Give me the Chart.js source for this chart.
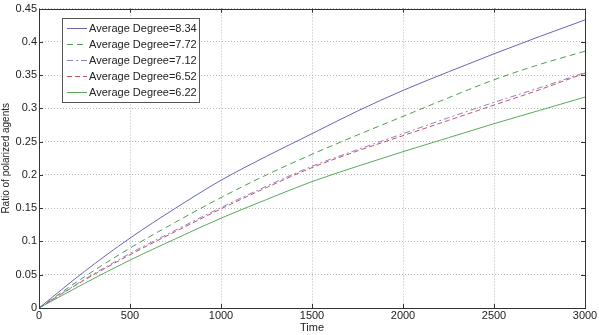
<!DOCTYPE html>
<html>
<head>
<meta charset="utf-8">
<script src="https://cdn.jsdelivr.net/npm/chart.js@4.4.1/dist/chart.umd.min.js"></script>
<style>
  html, body { margin: 0; padding: 0; background: #fff; }
  #wrap { width: 599px; height: 335px; }
</style>
</head>
<body>
<div id="wrap"><canvas id="polarChart" width="599" height="335"></canvas></div>
<script>
// time axis samples
const times = [0, 250, 500, 750, 1000, 1250, 1500, 1750, 2000, 2250, 2500, 2750, 3000];

// ratio of polarized agents, one array per average degree
const deg834 = [0, 0.055, 0.105, 0.150, 0.192, 0.228, 0.262, 0.296, 0.327, 0.355, 0.382, 0.408, 0.433];
const deg772 = [0, 0.047, 0.090, 0.129, 0.166, 0.200, 0.231, 0.260, 0.288, 0.316, 0.343, 0.366, 0.386];
const deg712 = [0, 0.043, 0.082, 0.117, 0.151, 0.183, 0.213, 0.238, 0.262, 0.286, 0.309, 0.331, 0.354];
const deg652 = [0, 0.042, 0.080, 0.115, 0.149, 0.181, 0.211, 0.236, 0.259, 0.282, 0.305, 0.328, 0.353];
const deg622 = [0, 0.037, 0.072, 0.104, 0.135, 0.163, 0.190, 0.213, 0.235, 0.256, 0.277, 0.297, 0.317];

const seriesLabels = [
    'Average Degree=8.34',
    'Average Degree=7.72',
    'Average Degree=7.12',
    'Average Degree=6.52',
    'Average Degree=6.22'
];

const xTicks = [0, 500, 1000, 1500, 2000, 2500, 3000];
const yTicks = [0, 0.05, 0.1, 0.15, 0.2, 0.25, 0.3, 0.35, 0.4, 0.45];

const FONT = 'Liberation Sans, Arial, sans-serif';

function toPoints(values) {
    return values.map((v, i) => ({ x: times[i], y: v }));
}

function makeSet(label, values, color, dash) {
    return {
        label: label,
        data: toPoints(values),
        borderColor: color,
        backgroundColor: color,
        borderWidth: 1,
        borderDash: dash,
        pointRadius: 0,
        cubicInterpolationMode: 'monotone',
        fill: false
    };
}

// matlab style box, inward ticks and a legend inside the axes
const boxPlugin = {
    id: 'matlabBox',
    afterDraw(chart) {
        const ctx = chart.ctx;
        const a = chart.chartArea;
        const xs = chart.scales.x;
        const ys = chart.scales.y;
        ctx.save();
        ctx.strokeStyle = '#333';
        ctx.lineWidth = 1;
        ctx.setLineDash([]);
        ctx.strokeRect(Math.round(a.left) + 0.5, Math.round(a.top) + 0.5,
            Math.round(a.right - a.left), Math.round(a.bottom - a.top));
        ctx.beginPath();
        xTicks.forEach(t => {
            const px = Math.round(xs.getPixelForValue(t)) + 0.5;
            ctx.moveTo(px, a.bottom); ctx.lineTo(px, a.bottom - 4);
            ctx.moveTo(px, a.top); ctx.lineTo(px, a.top + 4);
        });
        yTicks.forEach(t => {
            const py = Math.round(ys.getPixelForValue(t)) + 0.5;
            ctx.moveTo(a.left, py); ctx.lineTo(a.left + 4, py);
            ctx.moveTo(a.right, py); ctx.lineTo(a.right - 4, py);
        });
        ctx.stroke();

        // legend
        const lx = 62, ly = 18, lw = 137, rowH = 16;
        const lh = rowH * chart.data.datasets.length + 4;
        ctx.fillStyle = '#fff';
        ctx.fillRect(lx, ly, lw, lh);
        ctx.strokeStyle = '#555';
        ctx.strokeRect(lx + 0.5, ly + 0.5, lw, lh);
        ctx.font = '11px ' + FONT;
        ctx.textBaseline = 'middle';
        chart.data.datasets.forEach((ds, i) => {
            const cy = Math.round(ly + 10 + i * rowH) + 0.5;
            ctx.strokeStyle = ds.borderColor;
            ctx.setLineDash(ds.borderDash || []);
            ctx.beginPath();
            ctx.moveTo(lx + 5, cy);
            ctx.lineTo(lx + 25, cy);
            ctx.stroke();
            ctx.setLineDash([]);
            ctx.fillStyle = '#222';
            ctx.fillText(ds.label, lx + 27, cy);
        });
        ctx.restore();
    }
};

const ctx = document.getElementById('polarChart');
new Chart(ctx, {
    type: 'line',
    data: {
        datasets: [
            makeSet(seriesLabels[0], deg834, '#6a64b2', []),
            makeSet(seriesLabels[1], deg772, '#4e9c52', [6, 4]),
            makeSet(seriesLabels[2], deg712, '#8c84c4', [6, 3, 2, 3]),
            makeSet(seriesLabels[3], deg652, '#c25468', [5, 3]),
            makeSet(seriesLabels[4], deg622, '#5aa95a', [])
        ]
    },
    options: {
        responsive: false,
        animation: false,
        layout: { padding: { left: 0, right: 14, top: 7, bottom: 0 } },
        plugins: {
            legend: { display: false },
            tooltip: { enabled: false }
        },
        scales: {
            x: {
                type: 'linear',
                min: 0,
                max: 3000,
                afterBuildTicks: s => { s.ticks = xTicks.map(v => ({ value: v })); },
                afterFit: s => { s.height = 27; },
                ticks: {
                    color: '#222',
                    font: { size: 11, family: FONT },
                    padding: 1,
                    maxRotation: 0,
                    callback: v => String(v)
                },
                grid: { color: '#b8b8b8', lineWidth: 1, drawTicks: false },
                border: { display: false, dash: [1, 2] },
                title: { display: true, text: 'Time', color: '#222', font: { size: 11, family: FONT }, padding: { top: -2, bottom: 0 } }
            },
            y: {
                min: 0,
                max: 0.45,
                afterBuildTicks: s => { s.ticks = yTicks.map(v => ({ value: v })); },
                afterFit: s => { s.width = 39; },
                ticks: {
                    color: '#222',
                    font: { size: 11, family: FONT },
                    padding: 2,
                    callback: v => parseFloat(v.toFixed(2)).toString()
                },
                grid: { color: '#b8b8b8', lineWidth: 1, drawTicks: false },
                border: { display: false, dash: [1, 2] },
                title: { display: true, text: 'Ratio of polarized agents', color: '#222', font: { size: 10, family: FONT }, padding: { top: 0, bottom: 0 } }
            }
        }
    },
    plugins: [boxPlugin]
});
</script>
</body>
</html>
